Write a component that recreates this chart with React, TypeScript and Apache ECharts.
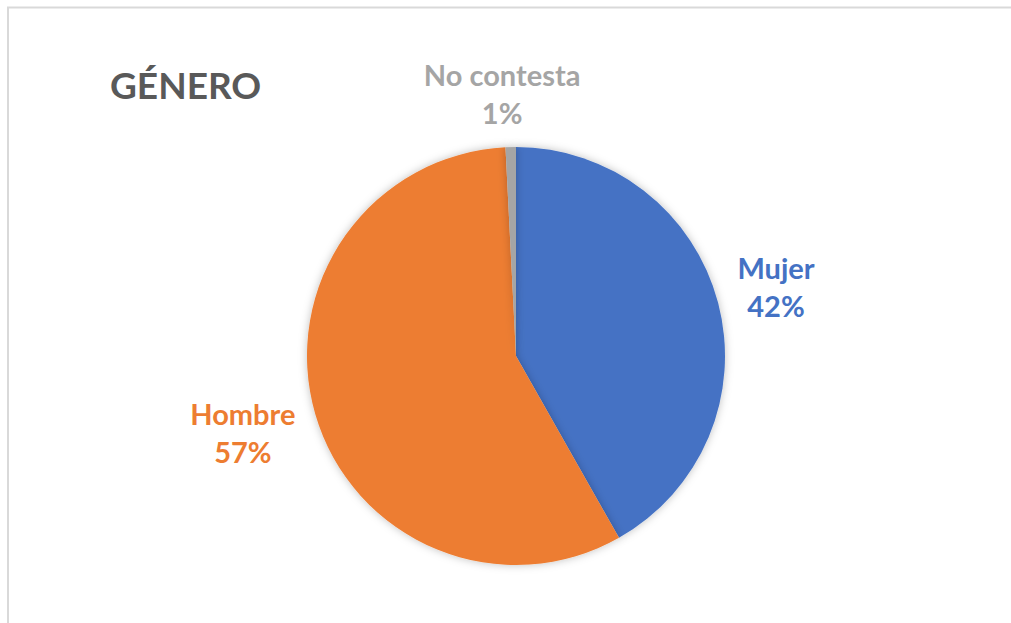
import React, { useEffect, useRef } from "react";
import * as echarts from "echarts";

const categories = ["Mujer", "Hombre", "No contesta"];
const values = [41.8, 57.4, 0.8];
const colors = ["#4472C4", "#ED7D31", "#A5A5A5"];
const titleText = "GÉNERO";

export default function App() {
  const ref = useRef<HTMLDivElement>(null);
  useEffect(() => {
    if (!ref.current) return;
    const chart = echarts.init(ref.current, null, { renderer: "svg" });
    const data = categories.map((name, i) => ({
      name,
      value: values[i],
      itemStyle: { color: colors[i] },
    }));
    const labelOffsets = [[-4, 0], [-11, 0], [-7, 10]];
    chart.setOption({
      animation: false,
      backgroundColor: "#ffffff",
      graphic: [
        {
          type: "rect",
          shape: { x: 8, y: 7.5, width: 1100, height: 700 },
          style: { fill: "none", stroke: "#d9d9d9", lineWidth: 2 },
          silent: true,
        },
        {
          type: "text",
          left: 110,
          top: 66,
          style: {
            text: titleText,
            fill: "#595959",
            font: "bold 37px Lato",
          },
        },
      ],
      series: [
        {
          type: "pie",
          center: [516, 356],
          radius: [0, 209],
          startAngle: 90,
          clockwise: true,
          label: { show: false },
          labelLine: { show: false },
          itemStyle: {
            borderWidth: 0,
            shadowBlur: 8,
            shadowColor: "rgba(0,0,0,0.25)",
          },
          emphasis: { disabled: true },
          data,
        },
        {
          type: "pie",
          center: [516, 356],
          radius: [248, 292],
          startAngle: 90,
          clockwise: true,
          silent: true,
          percentPrecision: 0,
          itemStyle: { color: "rgba(0,0,0,0)" },
          label: {
            show: true,
            position: "inside",
            formatter: "{b}\n{d}%",
            fontFamily: "Lato",
            fontWeight: "bold",
            fontSize: 29,
            lineHeight: 38,
            align: "center",
          },
          labelLine: { show: false },
          emphasis: { disabled: true },
          data: categories.map((name, i) => ({
            name,
            value: values[i],
            label: { color: colors[i], offset: labelOffsets[i] },
          })),
        },
      ],
    });
    return () => chart.dispose();
  }, []);
  return (
    <div
      ref={ref}
      style={{ position: "fixed", left: 0, top: 0, width: 1011, height: 623 }}
    />
  );
}
